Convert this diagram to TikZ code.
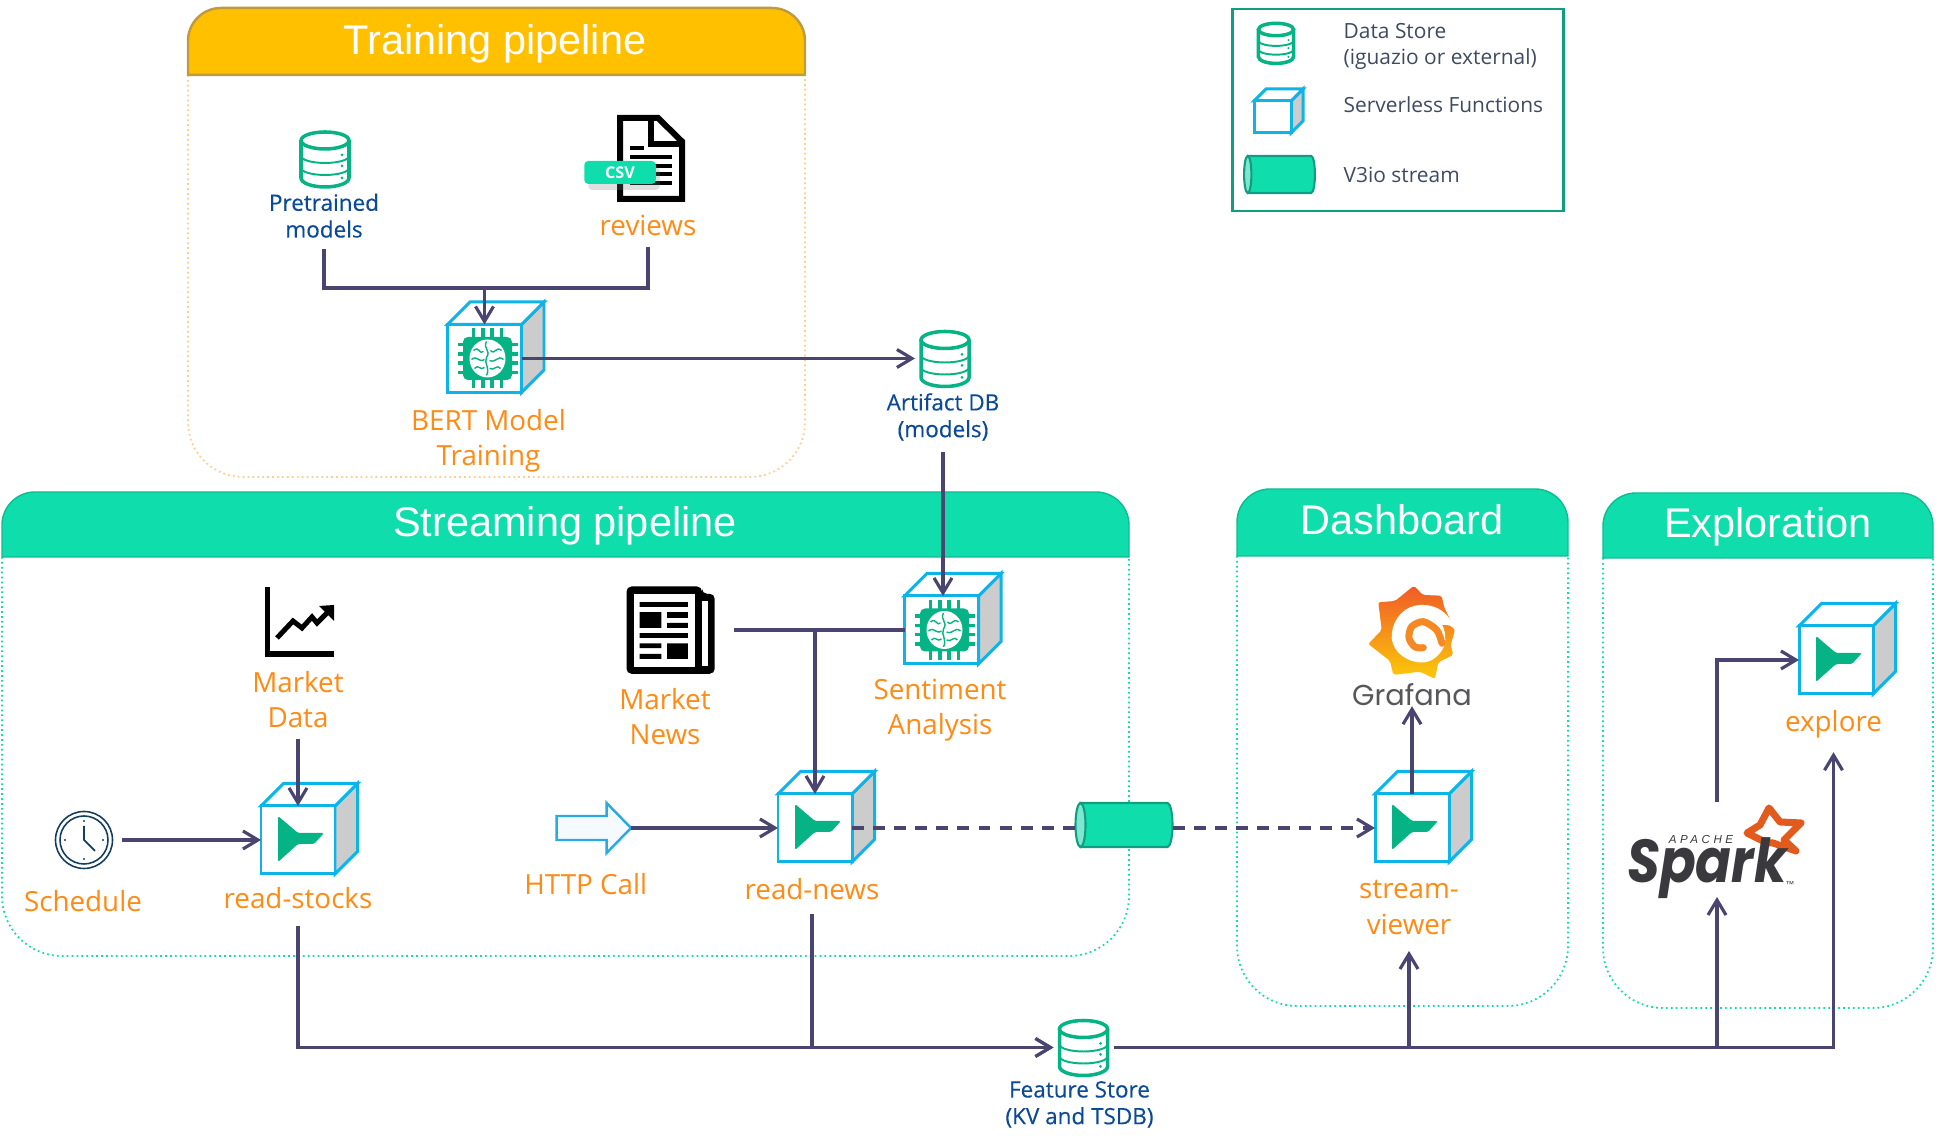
\documentclass[tikz,border=0pt]{standalone}
\usepackage{fontspec}
\setmainfont{Open Sans}
\newfontfamily\titlefont{Liberation Sans}
\newfontfamily\logofont{Poppins}
\usetikzlibrary{positioning, arrows.meta, calc, shapes.geometric, shadows}
\definecolor{flowcol}{HTML}{4A4570}
\definecolor{cubeblue}{HTML}{0DB4E8}
\definecolor{sidegray}{HTML}{CCCCCC}
\definecolor{icongreen}{HTML}{05B384}
\definecolor{streamgreen}{HTML}{10DDAC}
\definecolor{streamlight}{HTML}{7DE8CF}
\definecolor{streamedge}{HTML}{119E80}
\definecolor{labelorange}{HTML}{FF8A14}
\definecolor{labelblue}{HTML}{0B4A96}
\definecolor{legendink}{HTML}{3E4A5F}
\definecolor{trainyellow}{HTML}{FFC000}
\definecolor{trainedge}{HTML}{BF9B40}
\definecolor{traindots}{HTML}{FDCF8E}
\definecolor{clocknavy}{HTML}{143E5E}
\definecolor{httpblue}{HTML}{29ABE2}
\definecolor{httpfill}{HTML}{F5FAFE}
\definecolor{grafanared}{HTML}{F05A28}
\definecolor{grafanamid}{HTML}{F58A24}
\definecolor{grafanayellow}{HTML}{FBCA0A}
\definecolor{sparkorange}{HTML}{E25A1C}
\definecolor{sparkink}{HTML}{3A393D}
\tikzset{
    >={Straight Barb[length=1.5mm, width=1.8mm]}, % open arrow heads
    flowline/.style={line width=.9pt, draw=flowcol},
    flow/.style={->, flowline},
    streamflow/.style={flow, dash pattern=on 3.4pt off 2.6pt},
    iconbox/.style={inner sep=0pt, outer sep=0pt, minimum width=.6cm, minimum height=.6cm}, % holds the place of a pic
    cubebox/.style={draw=cubeblue, fill=white, line width=.85pt, inner sep=0pt, outer sep=0pt,
        minimum width=.74cm, minimum height=.68cm,
        append after command={\pgfextra{
            \draw[cubeblue, fill=sidegray, line width=.85pt] (\tikzlastnode.north east) -- ([shift={(#1,#1)}]\tikzlastnode.north east)
                -- ([shift={(#1,#1)}]\tikzlastnode.south east) -- (\tikzlastnode.south east) -- cycle;
            \draw[cubeblue, fill=white, line width=.85pt] (\tikzlastnode.north west) -- ([shift={(#1,#1)}]\tikzlastnode.north west)
                -- ([shift={(#1,#1)}]\tikzlastnode.north east) -- (\tikzlastnode.north east) -- cycle;
        }}},
    cubebox/.default=.225,
    compname/.style={inner sep=0pt, align=center, text=labelorange, font=\fontsize{7.9}{10}\selectfont},
    storename/.style={inner sep=0pt, align=center, text=labelblue, font=\fontsize{6.4}{7.6}\selectfont\addfontfeature{FakeBold=.3}},
    legendtext/.style={inner sep=0pt, anchor=west, align=left, text=legendink, font=\fontsize{5.95}{7.4}\selectfont},
    paneltitle/.style={inner sep=0pt, text=white, font=\fontsize{11.8}{14}\selectfont\titlefont},
    trainhead/.style={draw=trainedge, fill=trainyellow, line width=.7pt},
    trainbody/.style={draw=traindots, line width=.5pt, dash pattern=on .5pt off .9pt},
    streamhead/.style={draw=streamgreen!85!black, fill=streamgreen, line width=.4pt},
    streambody/.style={draw=streamgreen, line width=.5pt, dash pattern=on .5pt off .9pt},
    pics/datastore/.style={code={
        \draw[icongreen, line width=1pt] (0,.185) ellipse (.24 and .085);
        \draw[icongreen, line width=1pt] (-.24,.185) -- (-.24,-.19) arc (180:360:.24 and .09) -- (.24,.185);
        \draw[icongreen, line width=.55pt] (-.24,.03) arc (180:360:.24 and .07);
        \draw[icongreen, line width=.55pt] (-.24,-.09) arc (180:360:.24 and .07);
        \fill[icongreen] (.17,.04) circle (.015) (.17,-.07) circle (.015) (.17,-.19) circle (.015);
    }},
    pics/streamcan/.style={code={
        \draw[streamedge, fill=streamgreen, line width=.6pt] (-.435,.22) -- (.435,.22) arc (90:-90:.05 and .22) -- (-.435,-.22) -- cycle;
        \draw[streamedge, fill=streamlight, line width=.6pt] (-.435,0) ellipse (.05 and .22);
    }},
    pics/funicon/.style={code={
        \fill[icongreen, rounded corners=.015cm] (-.20,.24) -- (0,.07) -- (.26,.07) -- (.16,-.04) -- (0,-.04) -- (-.20,-.22) -- cycle;
    }},
    pics/brainchip/.style={code={
        \begin{scope}[shift={(.03,0)}]
        \draw[icongreen, line width=.60cm, dash pattern=on .035cm off .058cm] (-.157,0) -- (.157,0);
        \draw[icongreen, line width=.60cm, dash pattern=on .035cm off .058cm] (0,-.157) -- (0,.157);
        \fill[icongreen, rounded corners=.05cm] (-.245,-.215) rectangle (.245,.215);
        \fill[white] (0,0) ellipse (.18 and .19);
        \draw[icongreen, line width=.4pt] (-.01,.17) .. controls (-.05,.10) and (.04,.08) .. (-.01,.01) .. controls (-.04,-.05) and (.03,-.09) .. (-.01,-.17);
        \draw[icongreen, line width=.4pt] (-.14,.08) .. controls (-.08,.13) and (-.08,.03) .. (-.04,.07);
        \draw[icongreen, line width=.4pt] (-.16,-.01) .. controls (-.10,.04) and (-.09,-.05) .. (-.03,-.01);
        \draw[icongreen, line width=.4pt] (-.13,-.10) .. controls (-.09,-.05) and (-.07,-.13) .. (-.03,-.09);
        \draw[icongreen, line width=.4pt] (.14,.08) .. controls (.08,.13) and (.08,.03) .. (.03,.08);
        \draw[icongreen, line width=.4pt] (.16,-.01) .. controls (.10,.04) and (.09,-.05) .. (.02,-.02);
        \draw[icongreen, line width=.4pt] (.13,-.10) .. controls (.09,-.05) and (.07,-.13) .. (.02,-.10);
        \end{scope}
    }},
    pics/csvdoc/.style={code={
        \draw[black, fill=white, line width=.06cm] (-.31,-.405) -- (-.31,.405) -- (.07,.405) -- (.31,.17) -- (.31,-.405) -- cycle;
        \draw[black, line width=.06cm] (.00,.405) -- (.00,.14) -- (.31,.14);
        \draw[black, line width=.04cm] (-.21,.105) -- (-.07,.105) (-.21,.015) -- (.21,.015) (-.21,-.075) -- (.21,-.075)
            (-.21,-.155) -- (.21,-.155) (-.21,-.245) -- (.21,-.245);
    }},
    pics/linechart/.style={code={
        \draw[black, line width=.055cm] (-.32,.35) -- (-.32,-.32) -- (.345,-.32);
        \draw[black, line width=.05cm] (-.225,-.16) -- (-.065,.01) -- (.025,-.06) -- (.125,.05) -- (.175,-.01) -- (.285,.10);
        \fill[black] (.345,.17) -- (.195,.16) -- (.345,.01) -- cycle;
    }},
    pics/newspaper/.style={code={
        \fill[black, rounded corners=.05cm] (-.44,.435) -- (.315,.435) -- (.315,.362) -- (.442,.362) -- (.442,-.438) -- (-.44,-.438) -- cycle;
        \fill[white] (-.369,.362) rectangle (.244,-.372);
        \fill[white] (.31,.285) rectangle (.375,-.365);
        \fill[black] (-.308,.278) rectangle (.173,.232) (-.308,.178) rectangle (-.091,.022) (-.035,.178) rectangle (.173,.122)
            (-.035,.072) rectangle (.173,.022) (-.308,-.032) rectangle (.173,-.078) (-.308,-.135) rectangle (-.091,-.182)
            (-.308,-.238) rectangle (-.091,-.288) (-.035,-.135) rectangle (.173,-.288);
    }},
    pics/wallclock/.style={code={
        \draw[clocknavy, line width=.45pt] (0,0) circle (.285) (0,0) circle (.24);
        \draw[clocknavy, line width=.5pt] (0,.14) -- (0,0) -- (.11,-.11);
        \fill[clocknavy] (0,.19) circle (.012) (.19,0) circle (.012) (0,-.19) circle (.012) (-.19,0) circle (.012);
    }},
    pics/httparrow/.style={code={
        \draw[httpblue, fill=httpfill, line width=.7pt] (-.372,.12) -- (.128,.12) -- (.128,.25) -- (.372,0) -- (.128,-.25) -- (.128,-.12) -- (-.372,-.12) -- cycle;
    }},
    pics/grafanalogo/.style={code={
        \shade[top color=grafanared, bottom color=grafanayellow, rounded corners=.02cm]
            (.02,.453) -- (.107,.36) -- (.297,.353) -- (.32,.243) -- (.43,.01) -- (.387,-.14) -- (.413,-.24) -- (.263,-.313) -- (.23,-.48)
            -- (.08,-.407) -- (-.187,-.44) -- (-.22,-.30) -- (-.437,-.13) -- (-.303,.01) -- (-.337,.287) -- (-.17,.30) -- cycle;
        \fill[white] (.43,.01) .. controls (.36,.24) and (.16,.28) .. (.03,.253) .. controls (-.12,.22) and (-.21,.07) .. (-.203,-.073)
            .. controls (-.19,-.22) and (-.03,-.33) .. (.13,-.313) .. controls (.22,-.30) and (.30,-.22) .. (.33,-.13)
            .. controls (.34,-.03) and (.32,.03) .. (.30,.06) .. controls (.36,.07) and (.40,.05) .. cycle;
        \draw[grafanamid, line width=.07cm, line cap=round] plot[smooth] coordinates {(.113,-.167) (.03,-.16) (-.03,-.07) (-.003,.043) (.113,.093) (.247,.01) (.30,-.123)};
    }},
    pics/sparkstarshape/.style={code={
        \draw[sparkorange, fill=white, line width=2pt, line join=round] (-.04,.22) -- (.07,.08) -- (.28,.07) -- (.11,-.10) -- (.23,-.21)
            -- (0,-.13) -- (-.06,-.13) -- (-.26,-.03) -- (-.13,.05) -- cycle;
    }}
}
\begin{document}
\begin{tikzpicture}
    \useasboundingbox (0,0) rectangle (19.42,11.41);

    % panels
    \draw[trainbody] (1.88,10.66) [rounded corners=.55cm] -- (1.88,6.64) -- (8.05,6.64) -- (8.05,10.66);
    \draw[trainhead] (1.88,10.66) -- (1.88,11.0) arc (180:90:.33) -- (7.72,11.33) arc (90:0:.33) -- (8.05,10.66) -- cycle;
    \node[paneltitle] (traintitle) at (4.95,10.97) {Training pipeline};
    \draw[streambody] (.02,5.84) [rounded corners=.6cm] -- (.02,1.85) -- (11.29,1.85) -- (11.29,5.84);
    \draw[streamhead] (.02,5.84) -- (.02,6.16) arc (180:90:.33) -- (10.96,6.49) arc (90:0:.33) -- (11.29,5.84) -- cycle;
    \node[paneltitle] (streamtitle) at (5.65,6.15) {Streaming pipeline};
    \draw[streambody] (12.37,5.85) [rounded corners=.6cm] -- (12.37,1.35) -- (15.68,1.35) -- (15.68,5.85);
    \draw[streamhead] (12.37,5.85) -- (12.37,6.19) arc (180:90:.33) -- (15.35,6.52) arc (90:0:.33) -- (15.68,5.85) -- cycle;
    \node[paneltitle] (dashtitle) at (14.02,6.21) {Dashboard};
    \draw[streambody] (16.03,5.83) [rounded corners=.6cm] -- (16.03,1.33) -- (19.33,1.33) -- (19.33,5.83);
    \draw[streamhead] (16.03,5.83) -- (16.03,6.15) arc (180:90:.33) -- (19.0,6.48) arc (90:0:.33) -- (19.33,5.83) -- cycle;
    \node[paneltitle] (exptitle) at (17.68,6.14) {Exploration};

    % legend
    \node[draw=streamedge, line width=.75pt, minimum width=3.31cm, minimum height=2.02cm] (legend) at (13.98,10.31) {};
    \node[iconbox] (legstore) at (12.76,10.98) {};
    \pic[scale=.73] at (legstore) {datastore};
    \node[cubebox=.12, minimum width=.37cm, minimum height=.32cm] (legcube) at (12.725,10.24) {};
    \node[iconbox, minimum width=.71cm, minimum height=.37cm] (legstream) at (12.795,9.665) {};
    \pic[xscale=.73, yscale=.84] at (legstream) {streamcan};
    \node[legendtext] (legtext1) at (13.43,10.95) {Data Store\\(iguazio or external)};
    \node[legendtext] (legtext2) at (13.43,10.36) {Serverless Functions};
    \node[legendtext] (legtext3) at (13.43,9.66) {V3io stream};

    % training
    \node[iconbox] (pretrained) at (3.25,9.82) {};
    \pic at (pretrained) {datastore};
    \node[storename] (prelabel) [below=.04cm of pretrained, xshift=-.01cm] {Pretrained\\models};
    \node[iconbox, minimum width=.68cm, minimum height=.87cm] (reviewdoc) at (6.51,9.825) {};
    \pic at (reviewdoc) {csvdoc};
    \node[fill=streamgreen, rounded corners=.04cm, minimum width=.715cm, minimum height=.23cm, inner sep=0pt, text=white,
        font=\fontsize{4.6}{5}\selectfont\bfseries, drop shadow={shadow xshift=.4mm, shadow yshift=-.6mm, opacity=.25}] (csvbadge) at (6.20,9.685) {CSV};
    \node[compname] (revlabel) [below=.12cm of reviewdoc, xshift=-.03cm] {reviews};
    \node[cubebox] (bert) at (4.845,7.825) {};
    \pic at (bert) {brainchip};
    \node[compname] (bertlabel) [below=.16cm of bert, xshift=.04cm] {BERT Model\\Training};
    \coordinate (trainjoin) at (4.845,8.53);
    \node[iconbox] (artifact) at (9.45,7.825) {};
    \pic at (artifact) {datastore};
    \node[storename] (artlabel) at (9.43,7.24) {Artifact DB\\(models)};

    % streaming
    \node[iconbox, minimum width=.70cm, minimum height=.70cm] (chart) at (2.995,5.19) {};
    \pic at (chart) {linechart};
    \node[compname] (marketlabel) [below=.14cm of chart, xshift=-.015cm] {Market\\Data};
    \node[iconbox, minimum width=1.26cm, minimum height=.87cm] (paper) at (6.705,5.11) {};
    \pic at (paper) {newspaper};
    \node[compname] (paperlabel) [below=.14cm of paper, xshift=-.055cm] {Market\\News};
    \node[cubebox] (sentiment) at (9.415,5.11) {};
    \pic at (sentiment) {brainchip};
    \node[compname] (sentlabel) [below=.14cm of sentiment, xshift=-.015cm] {Sentiment\\Analysis};
    \node[iconbox, minimum width=.76cm, minimum height=.76cm] (clock) at (.84,3.01) {};
    \pic at (clock) {wallclock};
    \node[compname] (clocklabel) [below=.12cm of clock, xshift=-.01cm] {Schedule};
    \node[cubebox] (stocks) at (2.98,3.01) {};
    \pic at (stocks) {funicon};
    \node[compname] (stockslabel) [below=.13cm of stocks] {read-stocks};
    \node[iconbox, minimum width=.744cm, minimum height=.5cm] (httpcall) at (5.938,3.13) {};
    \pic at (httpcall) {httparrow};
    \node[compname] (httplabel) [below=.2cm of httpcall, xshift=-.08cm] {HTTP Call};
    \node[cubebox] (readnews) at (8.15,3.13) {};
    \pic at (readnews) {funicon};
    \node[compname] (newslabel) [below=.16cm of readnews, xshift=-.03cm] {read-news};
    \node[iconbox, minimum width=.975cm, minimum height=.44cm] (stream) at (11.24,3.16) {};
    \pic at (stream) {streamcan};

    % dashboard
    \node[cubebox] (viewer) at (14.12,3.13) {};
    \pic at (viewer) {funicon};
    \node[compname] (viewlabel) [below=.18cm of viewer, xshift=-.03cm] {stream-\\viewer};
    \node[iconbox, minimum width=.86cm, minimum height=.93cm] (grafana) at (14.12,5.10) {};
    \pic at (grafana) {grafanalogo};
    \node[inner sep=0pt, text=sparkink!85, font=\fontsize{8.2}{9}\selectfont\logofont] (grafananame) [below=.05cm of grafana] {Grafana};

    % exploration
    \node[cubebox] (explore) at (18.36,4.81) {};
    \pic at (explore) {funicon};
    \node[compname] (explabel) [below=.16cm of explore, xshift=-.025cm] {explore};
    \node[iconbox] (sparkstar) at (17.73,3.11) {};
    \pic at (sparkstar) {sparkstarshape};
    \node[inner sep=0pt, text=sparkink, yscale=1.15, transform shape, font=\fontsize{15}{16}\selectfont\logofont\bfseries\itshape] (spark) at (17.07,2.73) {Spark};
    \node[inner sep=0pt, text=sparkink, font=\fontsize{3.3}{4}\selectfont\titlefont\itshape\addfontfeature{LetterSpace=30}] (apache) at (17.01,3.01) {APACHE};
    \node[inner sep=0pt, text=sparkink, font=\fontsize{2.5}{3}\selectfont\titlefont] (sparktm) at (17.90,2.57) {\texttrademark};
    \coordinate (sparktop) at (17.17,3.39);
    \coordinate (sparkbase) at (17.17,2.44);

    % feature store
    \node[iconbox] (fstore) at (10.835,.935) {};
    \pic at (fstore) {datastore};
    \node[storename] (fstorelabel) [below=.03cm of fstore, xshift=-.04cm] {Feature Store\\(KV and TSDB)};

    % connectors
    \draw[flowline, shorten <=3pt] (prelabel.south) |- (trainjoin);
    \draw[flowline, shorten <=3pt] (revlabel.south) |- (trainjoin);
    \draw[flow] (trainjoin) -- (bert.north);
    \draw[flow] (bert.east) -- (artifact.west);
    \draw[flow, shorten <=3pt] (artlabel.south) -- (artlabel.south |- sentiment.north);
    \draw[flow, shorten <=3pt] (marketlabel.south) -- (stocks.north);
    \draw[flow] (clock.east) -- (stocks.west);
    \draw[flowline] (paper.east) -- (sentiment.west);
    \draw[flow] (readnews.north |- paper.east) -- (readnews.north);
    \draw[flow] (httpcall.east) -- (readnews.west);
    \draw[flowline, dash pattern=on 3.4pt off 2.6pt] (readnews.east) -- (readnews.east -| stream.west);
    \draw[streamflow] (viewer.west -| stream.east) -- (viewer.west);
    \draw[flow] (viewer.north) -- (grafananame.south);
    \draw[flow, shorten <=4.5pt] (stockslabel.south) |- (fstore.west);
    \draw[flow, shorten <=3.7pt] (newslabel.south) |- (fstore.west);
    \draw[flow, shorten >=4.5pt] (fstore.east) -| (viewlabel.south);
    \draw[flow] (fstore.east) -| (sparkbase);
    \draw[flow, shorten >=3.7pt] (fstore.east) -| (explabel.south);
    \draw[flow] (sparktop) |- (explore.west);
\end{tikzpicture}
\end{document}
